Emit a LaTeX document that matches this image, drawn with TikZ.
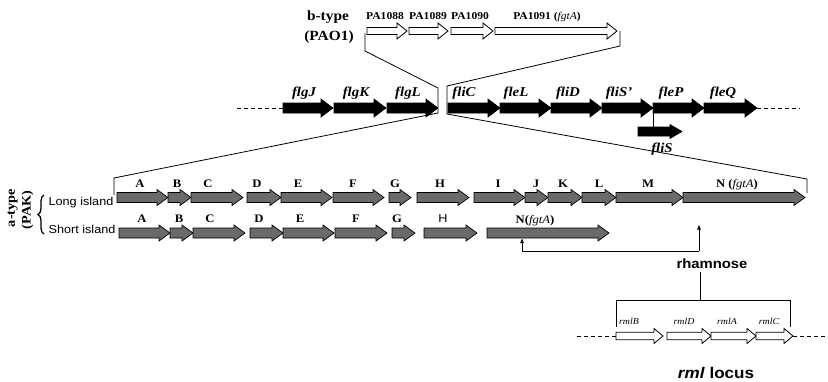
\documentclass[tikz,border=0pt]{standalone}
\usepackage{fontspec}
\setmainfont{Liberation Serif}[FakeStretch=1.1]
\newfontfamily\arialfam{Liberation Sans}[FakeStretch=1.1]
\usetikzlibrary{arrows.meta,decorations.pathreplacing}
\definecolor{genegray}{HTML}{6A6A6A}

% gene arrow: style, name, x start, x tip, y centre
% body half height \gbh, head half height \ghh, head length \ghl
\newcommand\genearrow[5]{%
  \draw[#1] (#3,{#5-\gbh}) -- ({#4-\ghl},{#5-\gbh}) -- ({#4-\ghl},{#5-\ghh}) -- (#4,#5)
    -- ({#4-\ghl},{#5+\ghh}) -- ({#4-\ghl},{#5+\gbh}) -- (#3,{#5+\gbh}) -- cycle;
  \coordinate (#2-s) at (#3,#5);
  \coordinate (#2-t) at (#4,#5);
}
\newcommand\genedims[3]{\def\gbh{#1}\def\ghh{#2}\def\ghl{#3}}

\tikzset{
  whitegene/.style={draw=black, fill=white, line width=0.8pt, line join=miter},
  blackgene/.style={draw=black, fill=black, line width=0.6pt},
  graygene/.style={draw=black, fill=genegray, line width=0.7pt},
  link/.style={line width=0.8pt},
  chromo/.style={line width=0.8pt, dash pattern=on 4pt off 3pt},
  lab/.style={anchor=base, inner sep=0pt},
  palab/.style={lab, font=\bfseries\fontsize{10.5}{12}\selectfont},
  typelab/.style={inner sep=0pt, font=\bfseries\fontsize{14}{16}\selectfont},
  flalab/.style={lab, font=\bfseries\itshape\fontsize{13.5}{15}\selectfont},
  islab/.style={lab, font=\bfseries\fontsize{11.5}{13}\selectfont},
  sanslab/.style={lab, font=\arialfam\fontsize{11.5}{13}\selectfont},
  rmllab/.style={lab, font=\itshape\fontsize{9}{10}\selectfont},
  regarrow/.style={line width=0.7pt, -{Triangle[length=4.5pt,width=3.5pt]}},
}

\begin{document}
\begin{tikzpicture}[x=1pt, y=-1pt]
\useasboundingbox (0,0) rectangle (828,381);

% ---------- b-type island (PAO1) ----------
\genedims{3.5}{8}{10}
\genearrow{whitegene}{pa88}{367}{407}{31}
\genearrow{whitegene}{pa89}{409}{448}{31}
\genearrow{whitegene}{pa90}{451}{493}{31}
\genearrow{whitegene}{pa91}{495}{617}{31}
\node[palab] (l88) at (385,19) {PA1088};
\node[palab] (l89) at (428,19) {PA1089};
\node[palab] (l90) at (470,19) {PA1090};
\node[palab] (l91) at (547,19) {PA1091 (\textit{\mdseries fgtA})};
\node[typelab] (btype) at (328,17) {b-type};
\node[typelab] (pao1) at (329,37) {(PAO1)};

% ---------- flagellar region ----------
\genedims{5}{9}{12}
\genearrow{blackgene}{flgJ}{283}{333}{108}
\genearrow{blackgene}{flgK}{334}{386}{108}
\genearrow{blackgene}{flgL}{387}{438}{108}
\genearrow{blackgene}{fliC}{448}{500}{108}
\genearrow{blackgene}{fleL}{500}{551}{108}
\genearrow{blackgene}{fliD}{551}{602}{108}
\genearrow{blackgene}{fliSp}{602}{653}{108}
\genearrow{blackgene}{fleP}{653}{704}{108}
\genearrow{blackgene}{fleQ}{704}{757}{108}
\genedims{4.5}{7}{12}
\genearrow{blackgene}{fliS}{638}{682}{131.5}
\coordinate (fliSjoin) at (653,127);
\draw[link] (fleP-s) -- (fliSjoin);

\coordinate (chrL) at (237,108);
\coordinate (chrR) at (800,108);
\draw[chromo] (chrL) -- (flgJ-s);
\draw[chromo] (fleQ-t) -- (chrR);

\node[flalab] (lflgJ) at (304,96) {flgJ};
\node[flalab] (lflgK) at (356,96) {flgK};
\node[flalab] (lflgL) at (408,96) {flgL};
\node[flalab] (lfliC) at (464,96) {fliC};
\node[flalab] (lfleL) at (516,96) {fleL};
\node[flalab] (lfliD) at (568,96) {fliD};
\node[flalab] (lfliSp) at (619,96) {fliS'};
\node[flalab] (lfleP) at (671,96) {fleP};
\node[flalab] (lfleQ) at (723,96) {fleQ};
\node[flalab] (lfliS) at (662,152) {fliS};

% ---------- a-type islands (PAK) ----------
\genedims{5}{8}{11}
\foreach \nm/\a/\b in {A/117/168, B/168/191, C/191/243, D/247/281, E/281/332,
    F/333/384, G/389/411, H/417/469, I/474/525, J/525/548, K/548/582,
    L/582/616, M/616/683, N/683/805}
  {\genearrow{graygene}{long\nm}{\a}{\b}{197.5}}
\foreach \nm/\a/\b in {A/119/170, B/170/193, C/193/245, D/250/283, E/283/334,
    F/335/387, G/392/415, H/424/477, N/487/609}
  {\genearrow{graygene}{short\nm}{\a}{\b}{233}}

\foreach \nm/\x in {A/140, B/177, C/208, D/257, E/298, F/353, G/395, H/440,
    I/498, J/536, K/563, L/599, M/648}
  {\node[islab] (ll\nm) at (\x,187) {\nm};}
\node[islab] (llN) at (737,187) {N (\textit{\mdseries fgtA})};
\foreach \nm/\x in {A/142, B/179, C/210, D/259, E/300, F/356, G/397}
  {\node[islab] (sl\nm) at (\x,222) {\nm};}
\node[sanslab] (slH) at (443,222) {H};
\node[islab] (slN) at (535,223) {N(\textit{\mdseries fgtA})};

\node[sanslab] (longis) at (81,205) {Long island};
\node[sanslab] (shortis) at (82,233) {Short island};
\coordinate (braceB) at (44,234);
\coordinate (braceT) at (44,195);
\draw[line width=1.3pt, decorate, decoration={brace, amplitude=6pt}] (braceB) -- (braceT);
\node[typelab, font=\bfseries\fontsize{13}{15}\selectfont, rotate=90] (atype) at (12.5,208) {a-type};
\node[typelab, font=\bfseries\fontsize{13}{15}\selectfont, rotate=90] (pak) at (27.5,210) {(PAK)};

% ---------- zoom lines between the maps ----------
\coordinate (bl1) at (365,33);
\coordinate (bl2) at (365,51);
\coordinate (bl3) at (438,88);
\coordinate (bl4) at (438,113);
\coordinate (bl5) at (114,178);
\coordinate (bl6) at (114,195);
\draw[link] (bl1) -- (bl2) -- (bl3) -- (bl4) -- (bl5) -- (bl6);
\coordinate (br1) at (620,31);
\coordinate (br2) at (620,46);
\coordinate (br3) at (447,86);
\coordinate (br4) at (447,114);
\coordinate (br5) at (807,179);
\coordinate (br6) at (807,193);
\draw[link] (br1) -- (br2) -- (br3) -- (br4) -- (br5) -- (br6);

% ---------- rhamnose and the rml locus ----------
\node[lab, font=\arialfam\bfseries\fontsize{13.5}{15}\selectfont] (rham) at (712,268) {rhamnose};
\coordinate (rj) at (699,251);
\coordinate (rjL) at (522,251);
\coordinate (tipLong) at (699,225);
\coordinate (tipShort) at (522,238.5);
\draw[regarrow] (rj) -- (tipLong);
\draw[regarrow] (rj) -- (rjL) -- (tipShort);

\genedims{3.7}{7.5}{9}
\genearrow{whitegene}{rmlB}{616}{663}{336}
\genearrow{whitegene}{rmlD}{667}{711}{336}
\genearrow{whitegene}{rmlA}{711}{756}{336}
\genearrow{whitegene}{rmlC}{756}{793}{336}
\coordinate (rmlL) at (577,336);
\coordinate (rmlR) at (827,336);
\draw[chromo] (rmlL) -- (rmlB-s);
\draw[chromo] (rmlC-t) -- (rmlR);

\coordinate (rb0) at (700,272);
\coordinate (rb1) at (700,300);
\coordinate (rbL) at (616,300);
\coordinate (rbR) at (790,300);
\coordinate (rbLd) at (616,327);
\coordinate (rbRd) at (790,327);
\draw[link] (rb0) -- (rb1);
\draw[link] (rbLd) -- (rbL) -- (rbR) -- (rbRd);

\node[rmllab] (lrmlB) at (629,324) {rmlB};
\node[rmllab] (lrmlD) at (684,324) {rmlD};
\node[rmllab] (lrmlA) at (727,324) {rmlA};
\node[rmllab] (lrmlC) at (769,324) {rmlC};

\node[lab, font=\arialfam\bfseries\fontsize{15.5}{17}\selectfont] (rmlloc) at (716,378) {\textit{rml} locus};
\end{tikzpicture}
\end{document}
